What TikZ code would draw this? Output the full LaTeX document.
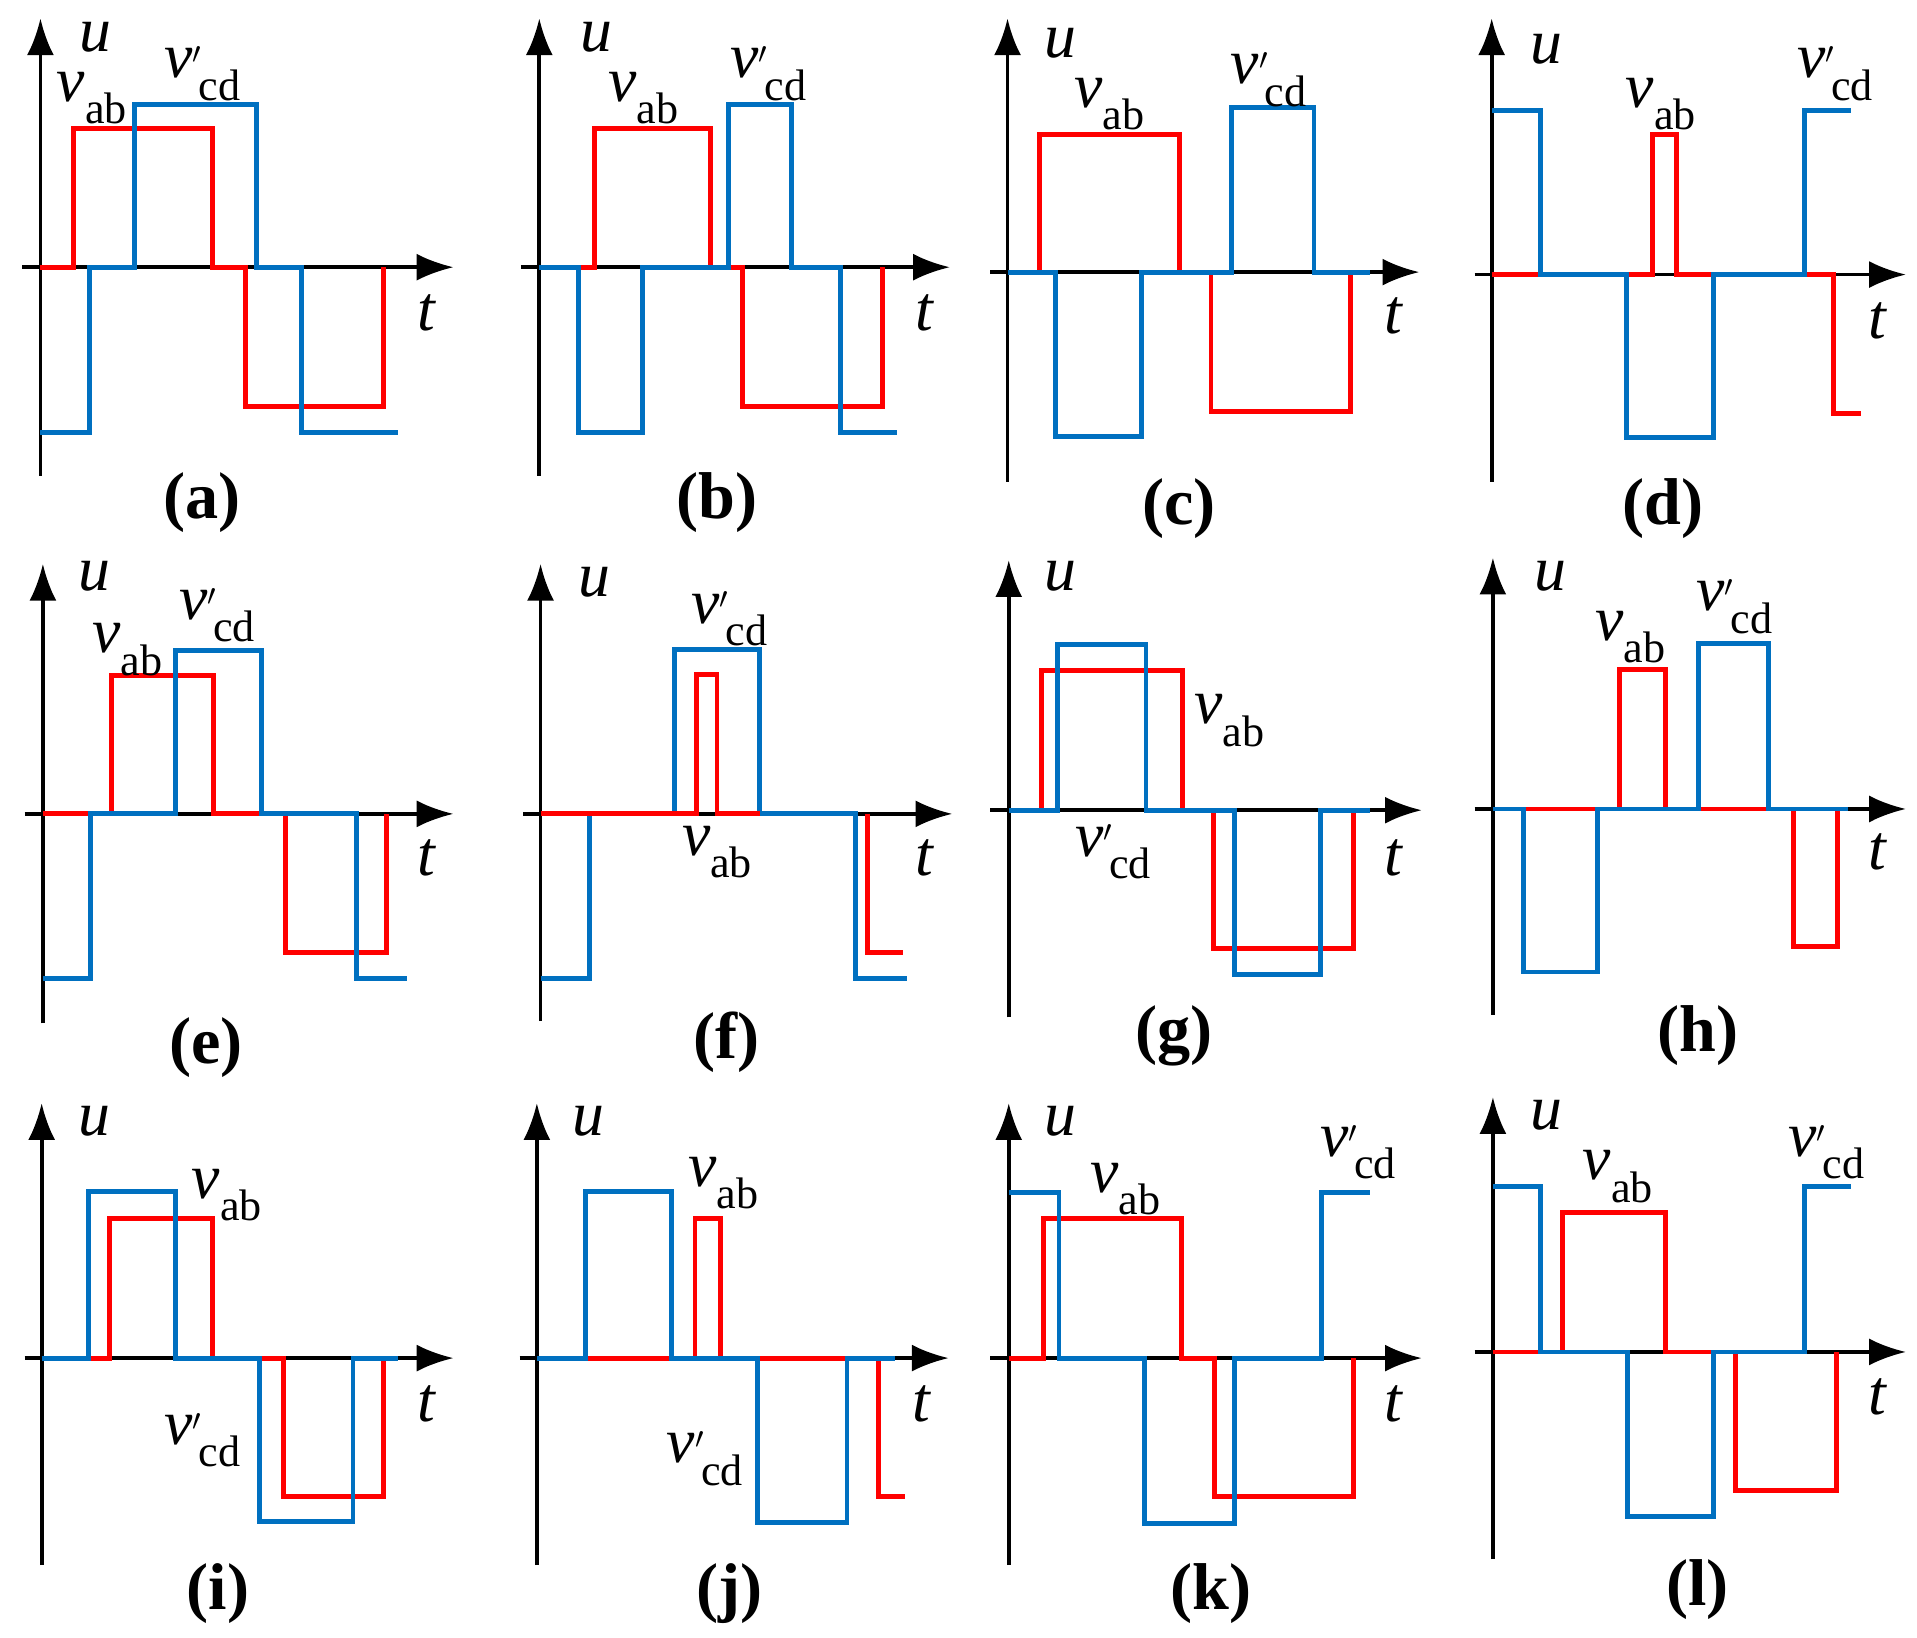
\documentclass[tikz,border=0pt]{standalone}
\usepackage{fontspec}
\setmainfont{Liberation Serif}
\usetikzlibrary{arrows.meta}
\definecolor{rr}{RGB}{255,0,0}
\definecolor{bb}{RGB}{0,112,192}
\newcommand{\vab}{\textit{v}\raisebox{-0.35em}{\fontsize{36}{38}\selectfont ab}}
\newcommand{\vcd}{\textit{v}\raisebox{0.05em}{\fontsize{52}{54}\selectfont$'$}\kern-0.05em\raisebox{-0.35em}{\fontsize{36}{38}\selectfont cd}}
\begin{document}
\begin{tikzpicture}[x=1pt,y=-1pt,
  ax/.style={line width=3pt,black,-{Latex[length=30pt,width=22pt]}},
  rl/.style={line width=4pt,rr,line join=miter},
  bl/.style={line width=4pt,bb,line join=miter},
  lb/.style={font=\fontsize{52}{56}\selectfont,inner sep=0pt},
  plab/.style={font=\fontsize{54}{58}\selectfont\bfseries,inner sep=0pt}]
\useasboundingbox (0,0) rectangle (1564,1336);
% ---------- (a)
\draw[ax] (33,388) -- (33,15); \draw[ax] (18,218) -- (370,218);
\draw[rl] (33,218)--(60,218)--(60,105)--(173,105)--(173,218)--(200,218)--(200,332)--(313,332)--(313,218);
\draw[bl] (33,353)--(73,353)--(73,218)--(110,218)--(110,85)--(209,85)--(209,218)--(246,218)--(246,353)--(325,353);
\node[lb] (ua) at (78,30) {\textit{u}}; \node[lb] (ta) at (348,255) {\textit{t}};
\node[lb] (va) at (75,80) {\vab}; \node[lb] (wa) at (165,60) {\vcd};
\node[plab] (ca) at (165,410) {(a)};
% ---------- (b)
\draw[ax] (440,388) -- (440,15); \draw[ax] (425,218) -- (775,218);
\draw[rl] (440,218)--(485,218)--(485,105)--(580,105)--(580,218)--(606,218)--(606,332)--(720,332)--(720,218);
\draw[bl] (440,218)--(472,218)--(472,353)--(524,353)--(524,218)--(594,218)--(594,85)--(646,85)--(646,218)--(686,218)--(686,353)--(732,353);
\node[lb] (ub) at (487,30) {\textit{u}}; \node[lb] (tb) at (755,255) {\textit{t}};
\node[lb] (vb) at (525,80) {\vab}; \node[lb] (wb) at (627,60) {\vcd};
\node[plab] (cb) at (585,410) {(b)};
% ---------- (c)
\draw[ax] (822,393) -- (822,15); \draw[ax] (808,222) -- (1158,222);
\draw[rl] (822,222)--(848,222)--(848,110)--(962,110)--(962,222)--(988,222)--(988,336)--(1102,336)--(1102,222);
\draw[bl] (822,222)--(861,222)--(861,356)--(931,356)--(931,222)--(1005,222)--(1005,88)--(1072,88)--(1072,222)--(1118,222);
\node[lb] (uc) at (865,35) {\textit{u}}; \node[lb] (tc) at (1137,258) {\textit{t}};
\node[lb] (vc) at (905,85) {\vab}; \node[lb] (wc) at (1035,65) {\vcd};
\node[plab] (cc) at (962,415) {(c)};
% ---------- (d)
\draw[ax] (1217,393) -- (1217,15); \draw[ax] (1203,224) -- (1555,224);
\draw[rl] (1217,224)--(1348,224)--(1348,110)--(1368,110)--(1368,224)--(1496,224)--(1496,337)--(1518,337);
\draw[bl] (1217,90)--(1257,90)--(1257,224)--(1327,224)--(1327,357)--(1398,357)--(1398,224)--(1472,224)--(1472,90)--(1510,90);
\node[lb] (ud) at (1262,40) {\textit{u}}; \node[lb] (td) at (1532,262) {\textit{t}};
\node[lb] (vd) at (1355,85) {\vab}; \node[lb] (wd) at (1497,60) {\vcd};
\node[plab] (cd) at (1357,415) {(d)};
% ---------- (e)
\draw[ax] (35,835) -- (35,460); \draw[ax] (20,664) -- (370,664);
\draw[rl] (35,664)--(91,664)--(91,551)--(174,551)--(174,664)--(233,664)--(233,777)--(315,777)--(315,664);
\draw[bl] (35,798)--(74,798)--(74,664)--(143,664)--(143,531)--(213,531)--(213,664)--(291,664)--(291,798)--(332,798);
\node[lb] (ue) at (77,470) {\textit{u}}; \node[lb] (te) at (348,700) {\textit{t}};
\node[lb] (ve) at (104,530) {\vab}; \node[lb] (we) at (177,502) {\vcd};
\node[plab] (ce) at (168,855) {(e)};
% ---------- (f)
\draw[ax] (441,833) -- (441,460); \draw[ax] (427,664) -- (777,664);
\draw[bl] (441,798)--(481,798)--(481,664)--(550,664)--(550,530)--(620,530)--(620,664)--(698,664)--(698,798)--(740,798);
\draw[rl] (441,664)--(568,664)--(568,550)--(585,550)--(585,664)--(620,664);
\draw[rl] (708,664)--(708,777)--(737,777);
\draw[bl] (620,664)--(698,664);
\node[lb] (uf) at (485,475) {\textit{u}}; \node[lb] (tf) at (755,700) {\textit{t}};
\node[lb] (vf) at (585,695) {\vab}; \node[lb] (wf) at (595,505) {\vcd};
\node[plab] (cf) at (593,850) {(f)};
% ---------- (g)
\draw[ax] (823,830) -- (823,457); \draw[ax] (808,661) -- (1160,661);
\draw[rl] (823,661)--(850,661)--(850,547)--(965,547)--(965,661)--(990,661)--(990,774)--(1104,774)--(1104,661);
\draw[bl] (823,661)--(863,661)--(863,526)--(935,526)--(935,661)--(1007,661)--(1007,795)--(1077,795)--(1077,661)--(1118,661);
\node[lb] (ug) at (865,470) {\textit{u}}; \node[lb] (tg) at (1137,700) {\textit{t}};
\node[lb] (vg) at (1003,588) {\vab}; \node[lb] (wg) at (908,695) {\vcd};
\node[plab] (cg) at (958,845) {(g)};
% ---------- (h)
\draw[ax] (1218,828) -- (1218,455); \draw[ax] (1203,660) -- (1555,660);
\draw[rl] (1218,660)--(1321,660)--(1321,546)--(1359,546)--(1359,660)--(1463,660)--(1463,772)--(1499,772)--(1499,660);
\draw[bl] (1218,660)--(1243,660)--(1243,793)--(1303,793)--(1303,660)--(1386,660)--(1386,525)--(1443,525)--(1443,660)--(1508,660);
\node[lb] (uh) at (1265,470) {\textit{u}}; \node[lb] (th) at (1532,695) {\textit{t}};
\node[lb] (vh) at (1330,520) {\vab}; \node[lb] (wh) at (1415,495) {\vcd};
\node[plab] (ch) at (1385,845) {(h)};
% ---------- (i)
\draw[ax] (34,1277) -- (34,900); \draw[ax] (20,1108) -- (370,1108);
\draw[rl] (34,1108)--(89,1108)--(89,994)--(173,994)--(173,1108)--(231,1108)--(231,1221)--(313,1221)--(313,1108);
\draw[bl] (34,1108)--(72,1108)--(72,972)--(143,972)--(143,1108)--(212,1108)--(212,1241)--(288,1241)--(288,1108)--(325,1108);
\node[lb] (ui) at (77,915) {\textit{u}}; \node[lb] (ti) at (348,1145) {\textit{t}};
\node[lb] (vi) at (185,975) {\vab}; \node[lb] (wi) at (165,1175) {\vcd};
\node[plab] (ci) at (178,1300) {(i)};
% ---------- (j)
\draw[ax] (438,1277) -- (438,900); \draw[ax] (424,1108) -- (774,1108);
\draw[rl] (438,1108)--(567,1108)--(567,994)--(588,994)--(588,1108)--(717,1108)--(717,1221)--(738,1221);
\draw[bl] (438,1108)--(478,1108)--(478,972)--(548,972)--(548,1108)--(618,1108)--(618,1242)--(691,1242)--(691,1108)--(730,1108);
\node[lb] (uj) at (480,915) {\textit{u}}; \node[lb] (tj) at (752,1145) {\textit{t}};
\node[lb] (vj) at (590,965) {\vab}; \node[lb] (wj) at (575,1190) {\vcd};
\node[plab] (cj) at (595,1300) {(j)};
% ---------- (k)
\draw[ax] (823,1277) -- (823,900); \draw[ax] (808,1108) -- (1160,1108);
\draw[rl] (823,1108)--(851,1108)--(851,994)--(964,994)--(964,1108)--(991,1108)--(991,1221)--(1104,1221)--(1104,1108);
\draw[bl] (823,973)--(864,973)--(864,1108)--(934,1108)--(934,1243)--(1007,1243)--(1007,1108)--(1078,1108)--(1078,973)--(1118,973);
\node[lb] (uk) at (865,915) {\textit{u}}; \node[lb] (tk) at (1137,1145) {\textit{t}};
\node[lb] (vk) at (918,970) {\vab}; \node[lb] (wk) at (1108,940) {\vcd};
\node[plab] (ck) at (988,1300) {(k)};
% ---------- (l)
\draw[ax] (1218,1272) -- (1218,895); \draw[ax] (1203,1103) -- (1555,1103);
\draw[rl] (1218,1103)--(1275,1103)--(1275,989)--(1359,989)--(1359,1103)--(1416,1103)--(1416,1216)--(1498,1216)--(1498,1103);
\draw[bl] (1218,968)--(1257,968)--(1257,1103)--(1328,1103)--(1328,1237)--(1398,1237)--(1398,1103)--(1472,1103)--(1472,968)--(1510,968);
\node[lb] (ul) at (1262,910) {\textit{u}}; \node[lb] (tl) at (1532,1140) {\textit{t}};
\node[lb] (vl) at (1320,960) {\vab}; \node[lb] (wl) at (1490,940) {\vcd};
\node[plab] (cl) at (1385,1297) {(l)};
\end{tikzpicture}
\end{document}
